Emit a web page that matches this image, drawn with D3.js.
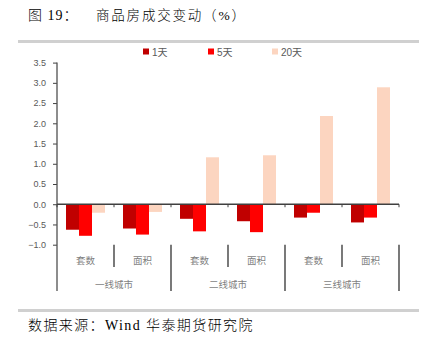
<!DOCTYPE html>
<html><head><meta charset="utf-8">
<script src="https://cdn.jsdelivr.net/npm/d3@7"></script>
<style>body{margin:0;background:#fff}svg{display:block}</style>
</head><body>
<svg id="c" width="426" height="342"></svg>
<script>
const categories = ["套数","面积","套数","面积","套数","面积"];
const groups = ["一线城市","二线城市","三线城市"];
const seriesNames = ["1天","5天","20天"];
const s1 = [-0.63,-0.60,-0.36,-0.42,-0.33,-0.45];
const s5 = [-0.78,-0.75,-0.67,-0.69,-0.21,-0.33];
const s20 = [-0.21,-0.19,1.16,1.21,2.18,2.89];
const yTicks = [-1.0,-0.5,0,0.5,1.0,1.5,2.0,2.5,3.0,3.5];
const colors = ["#C00000","#FF0000","#FCD5C0"];

const svg = d3.select("#c");
const serif = "'Liberation Serif','Noto Sans CJK SC',serif";
const sans = "'Liberation Sans','Noto Sans CJK SC',sans-serif";

// title
svg.append("text").attr("x",28).attr("y",20).attr("font-family",serif).attr("font-size",14).attr("font-weight",300).attr("fill","#000").attr("letter-spacing",1).text("图 19：");
svg.append("text").attr("x",96).attr("y",20).attr("font-family",serif).attr("font-size",13.5).attr("font-weight",300).attr("fill","#000").attr("letter-spacing",1.8).text("商品房成交变动（%）");
// gray bars
svg.append("rect").attr("x",18).attr("y",40).attr("width",401).attr("height",3).attr("fill","#d0d0d0");
svg.append("rect").attr("x",18).attr("y",309).attr("width",401).attr("height",3).attr("fill","#d0d0d0");
svg.append("text").attr("x",28).attr("y",330).attr("font-family",serif).attr("font-size",14).attr("font-weight",300).attr("fill","#000").attr("letter-spacing",1.4).text("数据来源：Wind  华泰期货研究院");

const x0 = 57, x1 = 399;
const y = d3.scaleLinear().domain([-1,3.5]).range([244.7,62.6]);
const xb = d3.scaleBand().domain(d3.range(categories.length)).range([x0,x1]).paddingInner(0.316).paddingOuter(0.158);
const xs = d3.scaleBand().domain(seriesNames).range([0,xb.bandwidth()]);
const step = (x1-x0)/categories.length;

// legend
const lg = [[143,152],[208,217],[272,281]];
seriesNames.forEach((n,i)=>{
  svg.append("rect").attr("x",lg[i][0]).attr("y",48.5).attr("width",6).attr("height",6).attr("fill",colors[i]);
  svg.append("text").attr("x",lg[i][1]).attr("y",56).attr("font-family",sans).attr("font-size",10).attr("fill","#595959").text(n);
});

// bars
const data = [s1,s5,s20];
data.forEach((arr,si)=>{
  svg.append("g").selectAll("rect").data(arr).join("rect")
    .attr("x",(d,i)=>xb(i)+xs(seriesNames[si]))
    .attr("width",xs.bandwidth())
    .attr("y",d=>y(Math.max(0,d)))
    .attr("height",d=>Math.abs(y(d)-y(0)))
    .attr("fill",colors[si]);
});

// y axis
const ya = svg.append("g").attr("transform",`translate(${x0},0)`)
  .call(d3.axisLeft(y).tickValues(yTicks).tickFormat(d3.format(".1f")).tickSize(4).tickSizeOuter(0));
ya.select(".domain").remove();
ya.selectAll("line").attr("stroke","#404040");
ya.selectAll("text").attr("font-family",sans).attr("font-size",9).attr("fill","#595959").attr("dx",-4);
svg.append("line").attr("x1",x0).attr("x2",x0).attr("y1",62.6).attr("y2",291).attr("stroke","#505050").attr("stroke-width",1.3);

// zero line with ticks
svg.append("line").attr("x1",x0).attr("x2",x1).attr("y1",y(0)).attr("y2",y(0)).attr("stroke","#404040").attr("stroke-width",1.3);
d3.range(categories.length+1).forEach(i=>{
  const xx = x0+i*step;
  svg.append("line").attr("x1",xx).attr("x2",xx).attr("y1",y(0)).attr("y2",y(0)+3).attr("stroke","#404040");
});

// multi-level category axis
const yb = y(-1);
d3.range(categories.length+1).forEach(i=>{
  const xx = x0+i*step;
  const major = i%2===0;
  if(i===0) return;
  svg.append("line").attr("x1",xx).attr("x2",xx).attr("y1",yb).attr("y2",major?291:267).attr("stroke","#202020").attr("stroke-width",1.2);
});
categories.forEach((c,i)=>{
  svg.append("text").attr("x",x0+(i+0.5)*step).attr("y",264).attr("text-anchor","middle")
    .attr("font-family",sans).attr("font-size",9.5).attr("fill","#7f7f7f").text(c);
});
groups.forEach((g,i)=>{
  svg.append("text").attr("x",x0+(i+0.5)*2*step).attr("y",288).attr("text-anchor","middle")
    .attr("font-family",sans).attr("font-size",9.5).attr("fill","#7f7f7f").text(g);
});
</script>
</body></html>
